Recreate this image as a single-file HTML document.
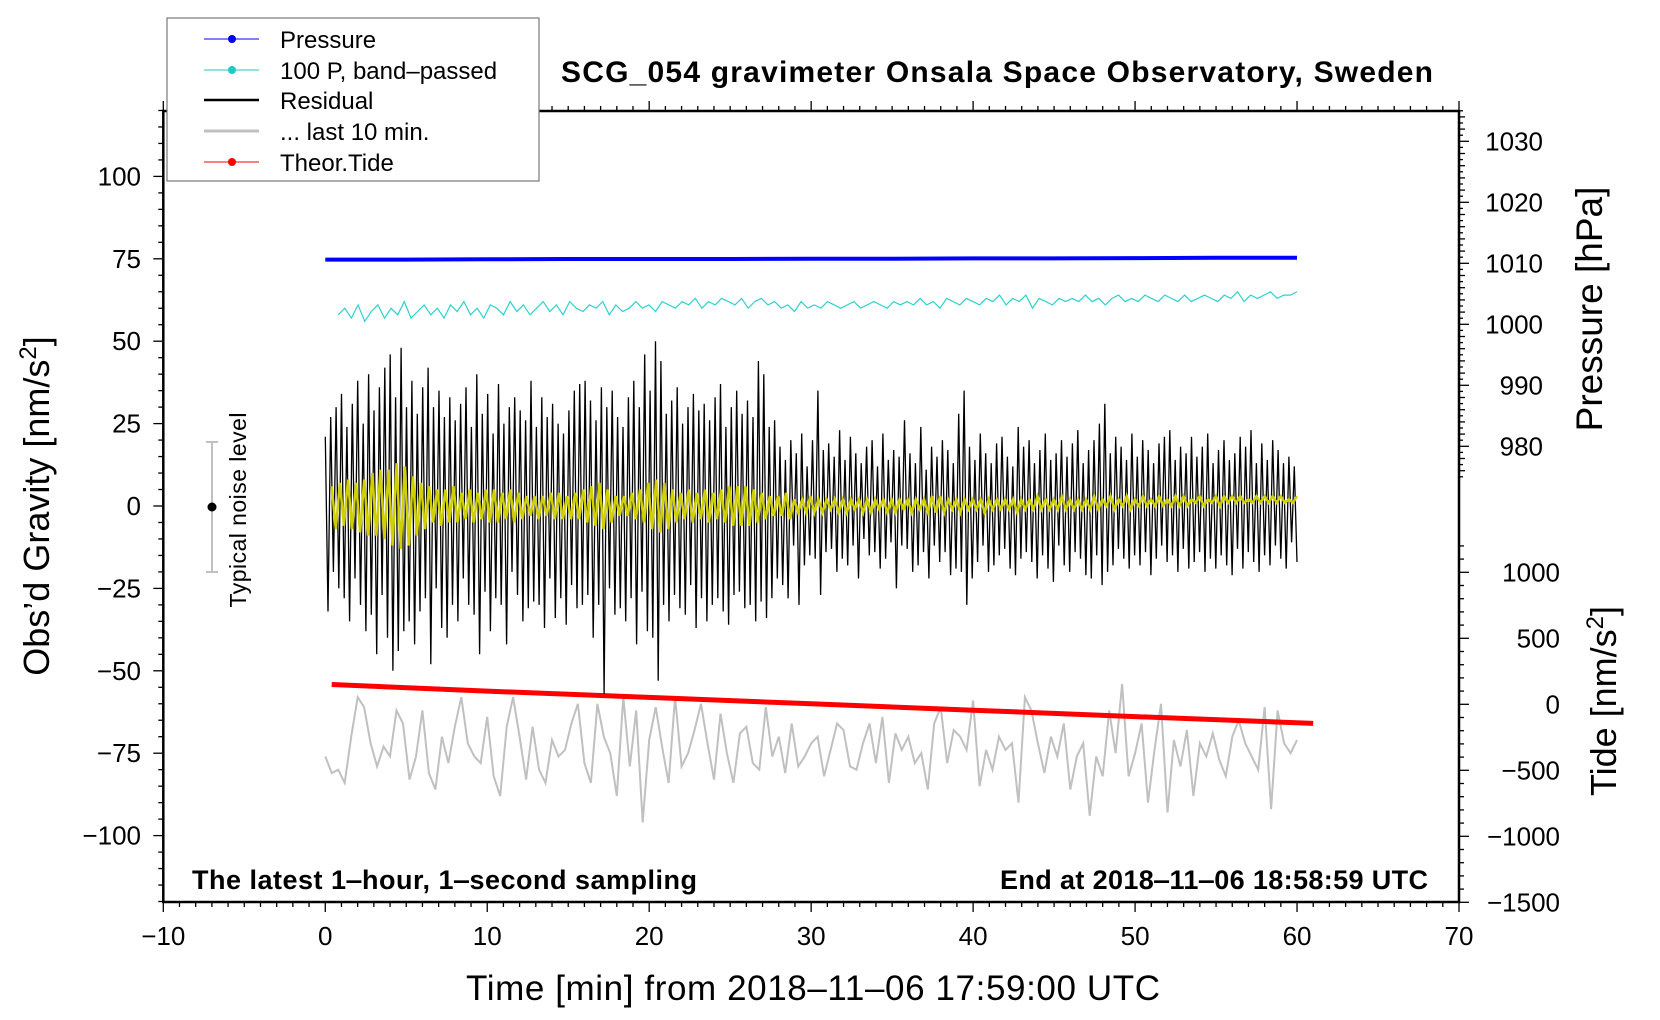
<!DOCTYPE html>
<html><head><meta charset="utf-8"><style>
html,body{margin:0;padding:0;background:#fff;}
svg{display:block;font-family:"Liberation Sans",sans-serif;}
</style></head><body>
<svg id="chart" width="1660" height="1020" viewBox="0 0 1660 1020" xmlns="http://www.w3.org/2000/svg">
<rect width="1660" height="1020" fill="#fff"/>
<g id="series"></g>
<g id="axes"></g>
<text x="997" y="82" font-size="30" font-weight="bold" text-anchor="middle" textLength="872">SCG_054 gravimeter Onsala Space Observatory, Sweden</text>
<text x="192" y="889" font-size="27" font-weight="bold" textLength="505">The latest 1‒hour, 1‒second sampling</text>
<text x="1000" y="889" font-size="27" font-weight="bold" textLength="428">End at 2018‒11‒06 18:58:59 UTC</text>
<text x="813" y="1000" font-size="35" text-anchor="middle" textLength="694">Time [min] from 2018‒11‒06 17:59:00 UTC</text>
<text transform="translate(49,506) rotate(-90)" font-size="36" text-anchor="middle">Obs’d Gravity [nm/s<tspan font-size="24" dy="-13">2</tspan><tspan dy="13">]</tspan></text>
<text transform="translate(1602,309) rotate(-90)" font-size="37" text-anchor="middle">Pressure [hPa]</text>
<text transform="translate(1616,701) rotate(-90)" font-size="36" text-anchor="middle">Tide [nm/s<tspan font-size="24" dy="-13">2</tspan><tspan dy="13">]</tspan></text>
<g>
<line x1="212" y1="442" x2="212" y2="572" stroke="#c0c0c0" stroke-width="2"/>
<line x1="206" y1="442" x2="218" y2="442" stroke="#c0c0c0" stroke-width="2"/>
<line x1="206" y1="572" x2="218" y2="572" stroke="#c0c0c0" stroke-width="2"/>
<circle cx="212" cy="507" r="4.5" fill="#000"/>
<text transform="translate(246,510) rotate(-90)" font-size="23" text-anchor="middle" textLength="195">Typical noise level</text>
</g>
<g>
<rect x="167" y="18" width="372" height="163" fill="#fff" stroke="#777" stroke-width="1.2"/>
<g><line x1="204" y1="39" x2="259" y2="39" stroke="#0000ff" stroke-width="1"/><circle cx="232" cy="39" r="4" fill="#0000ff"/><text x="280" y="48" font-size="24">Pressure</text></g>
<g><line x1="204" y1="70" x2="259" y2="70" stroke="#20c8c8" stroke-width="1"/><circle cx="232" cy="70" r="4" fill="#20c8c8"/><text x="280" y="79" font-size="24">100 P, band‒passed</text></g>
<g><line x1="204" y1="100" x2="259" y2="100" stroke="#000" stroke-width="2.5"/><text x="280" y="109" font-size="24">Residual</text></g>
<g><line x1="204" y1="131" x2="259" y2="131" stroke="#c0c0c0" stroke-width="3"/><text x="280" y="140" font-size="24">... last 10 min.</text></g>
<g><line x1="204" y1="162" x2="259" y2="162" stroke="#ff0000" stroke-width="1"/><circle cx="232" cy="162" r="4" fill="#ff0000"/><text x="280" y="171" font-size="24">Theor.Tide</text></g>
</g>
</svg>
<script>
// ---- data ----
const xTicks = [-10,0,10,20,30,40,50,60,70];
const gravTicks = [100,75,50,25,0,-25,-50,-75,-100];
const pressTicks = [1030,1020,1010,1000,990,980];
const tideTicks = [1000,500,0,-500,-1000,-1500];
const residual = [21,-32,27,-20,30,-25,34,-28,24,-35,31,-22,38,-30,25,-38,40,-33,29,-45,36,-27,42,-40,46,-50,33,-44,48,-38,30,-35,38,-42,28,-32,36,-28,42,-48,30,-25,35,-37,27,-40,33,-30,26,-35,31,-22,36,-30,24,-33,40,-45,28,-26,34,-38,22,-28,37,-30,25,-42,30,-20,33,-27,29,-35,26,-31,38,-29,24,-30,33,-37,27,-22,31,-34,25,-28,22,-36,29,-24,35,-31,37,-30,38,-27,32,-40,26,-30,36,-57,30,-25,35,-33,27,-31,24,-35,33,-28,38,-42,30,-26,46,-38,35,-40,50,-53,44,-30,28,-35,32,-27,36,-31,25,-33,30,-24,34,-37,29,-28,31,-35,26,-30,33,-28,37,-32,24,-36,30,-27,35,-26,28,-31,32,-30,27,-35,44,-29,40,-34,24,-28,26,-22,18,-24,14,-28,20,-12,16,-30,22,-18,12,-15,20,-16,35,-27,17,-14,19,-13,15,-20,23,-16,14,-18,21,-12,16,-22,13,-10,18,-15,20,-14,12,-19,22,-16,14,-11,17,-25,15,-12,26,-13,16,-20,13,-18,24,-14,11,-22,18,-12,15,-17,20,-14,17,-21,13,-19,28,-20,35,-30,18,-22,14,-17,22,-12,16,-20,13,-18,19,-15,21,-13,15,-19,12,-21,24,-16,18,-14,20,-17,13,-22,17,-15,22,-19,14,-23,16,-12,20,-18,15,-20,19,-14,23,-16,13,-21,17,-22,20,-15,25,-24,31,-20,16,-18,21,-13,18,-16,14,-19,22,-15,15,-18,20,-14,17,-21,13,-16,19,-12,21,-17,23,-15,14,-20,18,-13,16,-19,21,-17,15,-14,18,-20,22,-16,13,-19,17,-15,20,-18,14,-21,16,-13,21,-19,18,-14,23,-17,13,-20,19,-15,14,-18,20,-12,17,-16,13,-19,15,-11,12,-17];
const filtered = [6,-7,7,-6,8,-7,7,-8,8,-9,10,-9,11,-10,11,-12,13,-13,12,-12,9,-9,7,-7,6,-5,5,-6,5,-5,6,-5,4,-4,5,-5,4,-4,5,-5,5,-5,4,-4,5,-5,4,-4,3,-3,3,-4,3,-3,4,-4,4,-4,3,-4,4,-4,5,-5,6,-6,7,-7,5,-5,3,-3,3,-3,4,-4,5,-5,7,-7,8,-8,7,-7,5,-5,4,-4,5,-5,4,-4,5,-5,4,-4,5,-5,6,-6,6,-6,6,-6,5,-5,4,-4,3,-3,3,-3,4,-4,2,-2,2,-2,3,-2,2,-2,2,-1,2,-2,2,-2,2,-1,2,-2,2,-2,2,-1,2,-2,2,-2,2,-1,2,-2,2,-1,2,-2,3,-2,3,-2,2,-1,2,-2,2,-1,2,-1,2,-2,2,-1,2,-1,2,-1,2,-2,2,-1,2,-1,3,-1,2,-1,2,-1,3,-1,2,-1,2,-1,2,-1,3,-1,2,0,3,-1,2,0,3,-1,2,0,3,0,2,0,3,0,2,0,3,0,3,0,2,1,3,0,2,1,3,0,3,1,3,1,3,1,2,1,3,1,3,1,3,1,3,1,2,1,3];
const bandpassed = [58,60,57,61,56,59,61,57,60,58,62,57,59,61,58,60,57,61,59,62,58,60,57,61,60,58,62,59,61,58,60,62,59,61,58,62,60,59,61,60,62,58,61,59,60,62,60,61,59,62,61,60,62,61,63,60,62,61,63,62,61,63,60,62,63,61,62,60,61,59,62,60,61,60,62,61,60,61,62,60,61,62,61,60,62,61,62,61,63,61,62,60,63,62,61,63,62,61,63,62,64,61,63,62,64,60,63,62,61,63,62,63,62,64,62,63,61,63,64,62,63,62,64,63,62,64,63,62,64,62,63,64,63,62,64,63,65,62,64,63,64,65,63,64,64,65];
const lastTen = [-76,-81,-80,-84,-70,-58,-61,-72,-79,-73,-76,-62,-66,-83,-76,-62,-81,-86,-70,-78,-67,-58,-72,-76,-78,-64,-82,-88,-67,-58,-70,-83,-67,-80,-84,-71,-76,-74,-66,-60,-78,-84,-60,-70,-75,-88,-58,-79,-62,-96,-71,-61,-73,-84,-58,-79,-75,-68,-60,-72,-83,-63,-75,-84,-69,-67,-78,-80,-61,-76,-70,-81,-66,-79,-76,-72,-70,-82,-74,-66,-68,-79,-80,-72,-66,-78,-64,-84,-69,-74,-70,-78,-75,-86,-66,-61,-78,-68,-70,-74,-59,-85,-74,-80,-70,-74,-72,-90,-58,-62,-72,-81,-70,-76,-66,-86,-76,-72,-94,-76,-82,-62,-75,-54,-82,-75,-66,-90,-74,-60,-93,-71,-79,-68,-88,-72,-76,-69,-77,-82,-70,-65,-72,-76,-80,-61,-92,-62,-72,-75,-71];
const pressure = [1010.6,1010.6,1010.65,1010.7,1010.7,1010.7,1010.75,1010.75,1010.8,1010.8,1010.85,1010.9,1010.9];
const tideT = [0.4,10,20,30,40,50,61];
const tide = [150,100,52,4,-45,-93,-145];

// ---- scales ----
const X0=163.3, X1=1459, Y0=111, Y1=902;
const sx = t => X0 + (t+10)/80*(X1-X0);
const sg = v => 506 - v*3.296;
const sp = p => 263.3 - (p-1010)*6.1;
const st = v => 704.3 - v*0.132;
const NS='http://www.w3.org/2000/svg';
const S = document.getElementById('series'), A=document.getElementById('axes');
function mk(tag, attrs, parent){const e=document.createElementNS(NS,tag);for(const k in attrs)e.setAttribute(k,attrs[k]);parent.appendChild(e);return e;}
function poly(pts){return pts.map(p=>p[0].toFixed(1)+','+p[1].toFixed(1)).join(' ');}

// series
let el;
el = mk('polyline',{points:poly(lastTen.map((v,i)=>[sx(i*60/(lastTen.length-1)),sg(v)])),fill:'none',stroke:'#c0c0c0','stroke-width':2},S);


el = mk('polyline',{points:poly(tideT.map((t,i)=>[sx(t),st(tide[i])])),fill:'none',stroke:'#ff0000','stroke-width':5},S);


el = mk('polyline',{points:poly(residual.map((v,i)=>[sx(i*60/(residual.length-1)),sg(v)])),fill:'none',stroke:'#000','stroke-width':1.3},S);


el = mk('polyline',{points:poly(filtered.map((v,i)=>[sx(0.4+i*59.6/(filtered.length-1)),sg(v)])),fill:'none',stroke:'#d0d000','stroke-width':2.5},S);


el = mk('polyline',{points:poly(bandpassed.map((v,i)=>[sx(0.8+i*59.2/(bandpassed.length-1)),sg(v)])),fill:'none',stroke:'#30d0d0','stroke-width':1.2},S);


el = mk('polyline',{points:poly(pressure.map((v,i)=>[sx(i*60/(pressure.length-1)),sp(v)])),fill:'none',stroke:'#0000ff','stroke-width':4},S);



// axes frame
el = mk('rect',{x:X0,y:Y0,width:X1-X0,height:Y1-Y0,fill:'none',stroke:'#000','stroke-width':2.5},A);


for(let t=-10;t<=70;t++){
  const x=sx(t), L=(t%10===0)?10:5;
  mk('line',{x1:x,y1:Y1,x2:x,y2:Y1+L,stroke:'#000','stroke-width':1.3},A);
  mk('line',{x1:x,y1:Y0,x2:x,y2:Y0-L,stroke:'#000','stroke-width':1.3},A);
}
xTicks.forEach(t=>{
  el = mk('text',{x:sx(t),y:945,'font-size':26,'text-anchor':'middle'},A);
  el.textContent = String(t).replace('-','\u2212');
  
  
});
for(let v=-120;v<=120;v+=5){
  const y=sg(v), L=(v%25===0)?10:5;
  mk('line',{x1:X0,y1:y,x2:X0-L,y2:y,stroke:'#000','stroke-width':1.3},A);
}
gravTicks.forEach(v=>{
  el = mk('text',{x:141,y:sg(v)+9,'font-size':26,'text-anchor':'end'},A);
  el.textContent = String(v).replace('-','\u2212');
  
  
});
for(let p=1035;p>=975;p--){
  const y=sp(p), L=(p%10===0)?10:(p%2===0?6:4);
  mk('line',{x1:X1,y1:y,x2:X1+L,y2:y,stroke:'#000','stroke-width':1.3},A);
}
pressTicks.forEach(p=>{
  el = mk('text',{x:1543,y:sp(p)+9,'font-size':26,'text-anchor':'end'},A);
  el.textContent = String(p);
  
  
});
for(let v=1200;v>=-1500;v-=100){
  const y=st(v), L=(v%500===0)?10:5;
  mk('line',{x1:X1,y1:y,x2:X1+L,y2:y,stroke:'#000','stroke-width':1.3},A);
}
tideTicks.forEach(v=>{
  el = mk('text',{x:1560,y:st(v)+9,'font-size':26,'text-anchor':'end'},A);
  el.textContent = String(v).replace('-','\u2212');
  
  
});
</script>
</body></html>
